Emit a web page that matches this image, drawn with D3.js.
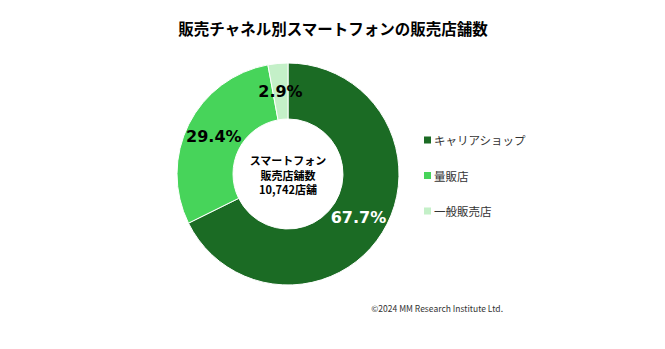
<!DOCTYPE html>
<html>
<head>
<meta charset="utf-8">
<script src="https://cdn.jsdelivr.net/npm/d3@7"></script>
<style>
  body { margin: 0; background: #fff; }
  text { font-family: "Noto Sans CJK JP", "Noto Sans", sans-serif; }
</style>
</head>
<body>
<div id="chart"></div>
<script>
///////////// Data /////////////
var categories = ["キャリアショップ", "量販店", "一般販売店"];
var shares = [67.7, 29.4, 2.9];
var colors = ["#1b6b24", "#47d45a", "#c4f0c8"];
var labelColors = ["#ffffff", "#000000", "#000000"];
var centerLines = ["スマートフォン", "販売店舗数", "10,742店舗"];
////////////////////////////////

var width = 665, height = 349;
var cx = 288, cy = 174;
var outerR = 111, innerR = 55;

var svg = d3.select("#chart").append("svg")
  .attr("width", width)
  .attr("height", height);

// title
svg.append("text")
  .attr("x", 333).attr("y", 35)
  .attr("text-anchor", "middle")
  .style("font-size", "15.5px")
  .style("font-weight", "bold")
  .text("販売チャネル別スマートフォンの販売店舗数");

var pie = d3.pie().sort(null).value(function (d) { return d; });
var arcs = pie(shares);
var arc = d3.arc().innerRadius(innerR).outerRadius(outerR);

var g = svg.append("g").attr("transform", "translate(" + cx + "," + cy + ")");

g.selectAll("path")
  .data(arcs)
  .enter().append("path")
  .attr("d", arc)
  .attr("fill", function (d, i) { return colors[i]; })
  .attr("stroke", "#fff")
  .attr("stroke-width", 1);

// percent labels on the ring centroid
g.selectAll(".lbl")
  .data(arcs)
  .enter().append("text")
  .attr("class", "lbl")
  .attr("x", function (d) { return arc.centroid(d)[0]; })
  .attr("y", function (d) { return arc.centroid(d)[1]; })
  .attr("text-anchor", "middle")
  .attr("dominant-baseline", "central")
  .style("font-family", "'DejaVu Sans', sans-serif")
  .style("font-size", "16px")
  .style("font-weight", "bold")
  .style("fill", function (d, i) { return labelColors[i]; })
  .text(function (d, i) { return shares[i].toFixed(1) + "%"; });

// center text
g.selectAll(".center")
  .data(centerLines)
  .enter().append("text")
  .attr("class", "center")
  .attr("x", 0)
  .attr("y", function (d, i) { return -14 + i * 14.5; })
  .attr("text-anchor", "middle")
  .attr("dominant-baseline", "central")
  .style("font-size", "11px")
  .style("font-weight", "bold")
  .text(function (d) { return d; });

// legend
var legend = svg.selectAll(".leg")
  .data(categories)
  .enter().append("g")
  .attr("class", "leg")
  .attr("transform", function (d, i) { return "translate(424," + (140 + i * 35.5) + ")"; });

legend.append("rect")
  .attr("x", 0).attr("y", -3.5)
  .attr("width", 7).attr("height", 7)
  .attr("fill", function (d, i) { return colors[i]; });

legend.append("text")
  .attr("x", 10).attr("y", 0)
  .attr("dominant-baseline", "central")
  .style("font-size", "11.5px")
  .style("fill", "#333")
  .text(function (d) { return d; });

// footer
svg.append("text")
  .attr("x", 503).attr("y", 308)
  .attr("text-anchor", "end")
  .attr("dominant-baseline", "central")
  .style("font-size", "8.5px")
  .style("fill", "#333")
  .text("©2024  MM Research Institute Ltd.");
</script>
</body>
</html>
